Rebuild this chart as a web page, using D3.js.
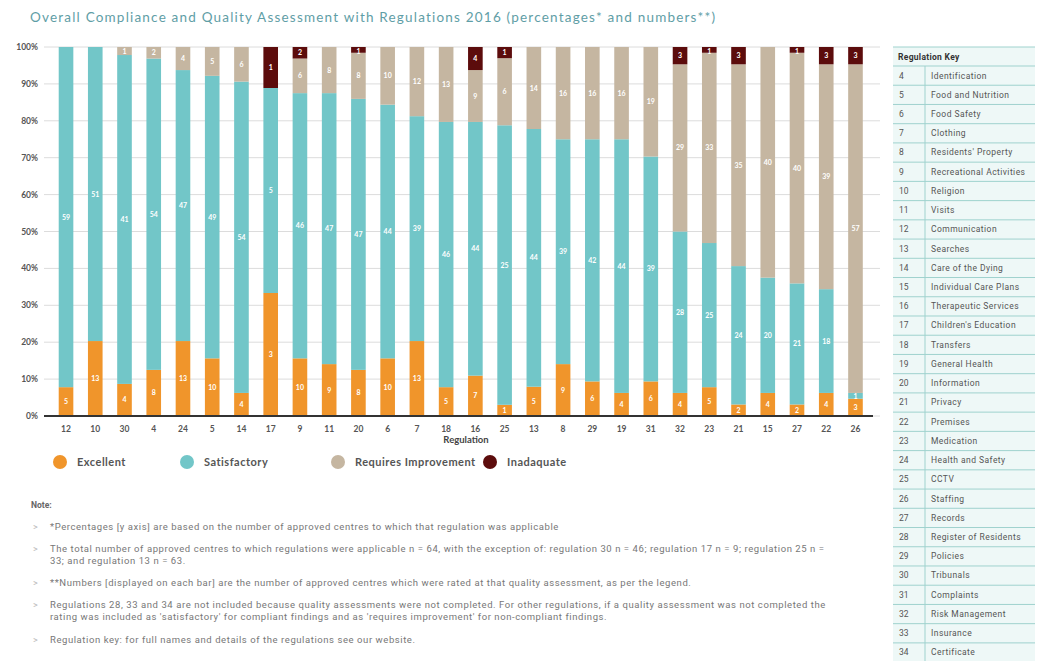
<!DOCTYPE html>
<html>
<head>
<meta charset="utf-8">
<script src="https://cdn.jsdelivr.net/npm/d3@7.9.0/dist/d3.min.js"></script>
<style>
  body { margin: 0; background: #fff; }
  svg { display: block; }
</style>
</head>
<body>
<svg id="chart" width="1041" height="661"></svg>
<script>
// Regulation order along the x axis
const regulations = [12, 10, 30, 4, 24, 5, 14, 17, 9, 11, 20, 6, 7, 18, 16, 25, 13, 8, 29, 19, 31, 32, 23, 21, 15, 27, 22, 26];

// Number of approved centres per rating
const excellent =           [5, 13, 4, 8, 13, 10, 4, 3, 10, 9, 8, 10, 13, 5, 7, 1, 5, 9, 6, 4, 6, 4, 5, 2, 4, 2, 4, 3];
const satisfactory =        [59, 51, 41, 54, 47, 49, 54, 5, 46, 47, 47, 44, 39, 46, 44, 25, 44, 39, 42, 44, 39, 28, 25, 24, 20, 21, 18, 1];
const requiresImprovement = [0, 0, 1, 2, 4, 5, 6, 0, 6, 8, 8, 10, 12, 13, 9, 6, 14, 16, 16, 16, 19, 29, 33, 35, 40, 40, 39, 57];
const inadequate =          [0, 0, 0, 0, 0, 0, 0, 1, 2, 0, 1, 0, 0, 0, 4, 1, 0, 0, 0, 0, 0, 3, 1, 3, 0, 1, 3, 3];

const ratingNames = ["Excellent", "Satisfactory", "Requires Improvement", "Inadaquate"];
const ratingColors = ["#f0952b", "#72c6c8", "#c5b6a1", "#5c0c0c"];
const yTicks = [0, 0.1, 0.2, 0.3, 0.4, 0.5, 0.6, 0.7, 0.8, 0.9, 1];

const keyNumbers = [4, 5, 6, 7, 8, 9, 10, 11, 12, 13, 14, 15, 16, 17, 18, 19, 20, 21, 22, 23, 24, 25, 26, 27, 28, 29, 30, 31, 32, 33, 34];
const keyNames = ["Identification", "Food and Nutrition", "Food Safety", "Clothing", "Residents' Property",
  "Recreational Activities", "Religion", "Visits", "Communication", "Searches", "Care of the Dying",
  "Individual Care Plans", "Therapeutic Services", "Children's Education", "Transfers", "General Health",
  "Information", "Privacy", "Premises", "Medication", "Health and Safety", "CCTV", "Staffing", "Records",
  "Register of Residents", "Policies", "Tribunals", "Complaints", "Risk Management", "Insurance", "Certificate"];

const notes = [
  ["*Percentages [y axis] are based on the number of approved centres to which that regulation was applicable"],
  ["The total number of approved centres to which regulations were applicable n = 64, with the exception of: regulation 30 n = 46; regulation 17 n = 9; regulation 25 n =",
   "33; and regulation 13 n = 63."],
  ["**Numbers [displayed on each bar] are the number of approved centres which were rated at that quality assessment, as per the legend."],
  ["Regulations 28, 33 and 34 are not included because quality assessments were not completed. For other regulations, if a quality assessment was not completed the",
   "rating was included as 'satisfactory' for compliant findings and as 'requires improvement' for non-compliant findings."],
  ["Regulation key: for full names and details of the regulations see our website."]
];

const svg = d3.select("#chart");
const font = "Lato, 'Open Sans', sans-serif";

// Title
svg.append("text")
  .attr("x", 30).attr("y", 22)
  .attr("font-family", font).attr("font-size", 13.5)
  .attr("letter-spacing", 1.2)
  .attr("fill", "#5f9ea6")
  .text("Overall Compliance and Quality Assessment with Regulations 2016 (percentages* and numbers**)");

// Build rows for stacking
const keys = ["excellent", "satisfactory", "requiresImprovement", "inadequate"];
const rows = regulations.map((r, i) => {
  const total = excellent[i] + satisfactory[i] + requiresImprovement[i] + inadequate[i];
  return {
    reg: r, total,
    excellent: excellent[i], satisfactory: satisfactory[i],
    requiresImprovement: requiresImprovement[i], inadequate: inadequate[i]
  };
});

const x = d3.scaleBand().domain(regulations).range([51.4, 870.1]).paddingInner(0.5).paddingOuter(0.25);
const y = d3.scaleLinear().domain([0, 1]).range([416, 47]);

// Gridlines
svg.append("g").selectAll("line")
  .data(yTicks)
  .enter().append("line")
  .attr("x1", 44).attr("x2", 880)
  .attr("y1", d => y(d)).attr("y2", d => y(d))
  .attr("stroke", "#dcdcdc").attr("stroke-width", 1);

// Y axis labels
svg.append("g").selectAll("text")
  .data(yTicks)
  .enter().append("text")
  .attr("x", 38).attr("y", d => y(d) + 3)
  .attr("text-anchor", "end")
  .attr("font-family", font).attr("font-size", 8.5).attr("font-weight", "bold")
  .attr("fill", "#555")
  .text(d => d3.format(".0%")(d));

// Stacked bars (percent of total)
const stack = d3.stack().keys(keys).value((d, k) => d[k] / d.total);
const series = stack(rows);

const groups = svg.append("g").selectAll("g")
  .data(series)
  .enter().append("g")
  .attr("fill", (d, i) => ratingColors[i]);

groups.selectAll("rect")
  .data(d => d.map(s => ({ key: d.key, s })))
  .enter().append("rect")
  .attr("x", d => x(d.s.data.reg))
  .attr("y", d => y(d.s[1]))
  .attr("width", x.bandwidth())
  .attr("height", d => Math.max(0, y(d.s[0]) - y(d.s[1])));

// Segment numbers
groups.selectAll("text")
  .data(d => d.map(s => ({ key: d.key, s })).filter(e => e.s.data[e.key] > 0))
  .enter().append("text")
  .attr("x", d => x(d.s.data.reg) + x.bandwidth() / 2)
  .attr("y", d => {
    const h = y(d.s[0]) - y(d.s[1]);
    return h < 10 ? y(d.s[1]) + 6.5 : (y(d.s[0]) + y(d.s[1])) / 2 + 2.5;
  })
  .attr("text-anchor", "middle")
  .attr("font-family", font).attr("font-size", 7).attr("font-weight", "bold")
  .attr("fill", "#fff")
  .text(d => d.s.data[d.key]);

// X axis
const xAxis = svg.append("g")
  .attr("transform", "translate(0,416)")
  .call(d3.axisBottom(x).tickSize(0).tickPadding(10));
xAxis.select(".domain").attr("d", "M44,0H873").attr("stroke", "#333").attr("stroke-width", 2);
xAxis.selectAll("text")
  .attr("font-family", font).attr("font-size", 8.5).attr("font-weight", "bold")
  .attr("fill", "#555");

svg.append("text")
  .attr("x", 466).attr("y", 443)
  .attr("text-anchor", "middle")
  .attr("font-family", font).attr("font-size", 9.5).attr("font-weight", "bold")
  .attr("fill", "#444")
  .text("Regulation");

// Legend
const legendX = [60, 187, 338, 490];
const legend = svg.append("g").selectAll("g")
  .data(ratingNames)
  .enter().append("g")
  .attr("transform", (d, i) => `translate(${legendX[i]},462)`);
legend.append("circle").attr("r", 7).attr("fill", (d, i) => ratingColors[i]);
legend.append("text")
  .attr("x", 17).attr("y", 3.5)
  .attr("font-family", font).attr("font-size", 11).attr("font-weight", "bold")
  .attr("letter-spacing", 0.5)
  .attr("fill", "#555")
  .text(d => d);

// Notes
const noteFont = "Roboto, sans-serif";
svg.append("text")
  .attr("x", 31).attr("y", 508)
  .attr("font-family", noteFont).attr("font-size", 8.5).attr("font-weight", "bold")
  .attr("fill", "#666")
  .text("Note:");

const noteY = [527, 549, 583, 605, 640];
notes.forEach((lines, i) => {
  svg.append("text")
    .attr("x", 33).attr("y", noteY[i] + 3)
    .attr("font-family", noteFont).attr("font-size", 9)
    .attr("fill", "#bbb")
    .text(">");
  lines.forEach((line, j) => {
    svg.append("text")
      .attr("x", 50).attr("y", noteY[i] + 3 + j * 12)
      .attr("font-family", noteFont).attr("font-size", 9.5)
      .attr("letter-spacing", 0.57)
      .attr("fill", "#777")
      .text(line);
  });
});

// Regulation key table
const tableX = 893, tableW = 142, tableTop = 47, headerH = 19, rowH = 19.23;
const table = svg.append("g");
table.append("rect")
  .attr("x", tableX).attr("y", tableTop)
  .attr("width", tableW).attr("height", headerH + rowH * keyNumbers.length)
  .attr("fill", "#eef8f7");
table.append("line")
  .attr("x1", tableX).attr("x2", tableX + tableW)
  .attr("y1", tableTop).attr("y2", tableTop)
  .attr("stroke", "#9fd2ce");
table.append("text")
  .attr("x", tableX + 5).attr("y", tableTop + 13)
  .attr("font-family", noteFont).attr("font-size", 8.5).attr("font-weight", "bold")
  .attr("letter-spacing", 0.3)
  .attr("fill", "#333")
  .text("Regulation Key");
table.append("line")
  .attr("x1", 925).attr("x2", 925)
  .attr("y1", tableTop + headerH).attr("y2", tableTop + headerH + rowH * keyNumbers.length)
  .attr("stroke", "#9fd2ce");

const keyRows = table.selectAll("g.keyrow")
  .data(keyNumbers)
  .enter().append("g")
  .attr("class", "keyrow")
  .attr("transform", (d, i) => `translate(0,${tableTop + headerH + i * rowH})`);
keyRows.append("line")
  .attr("x1", tableX).attr("x2", tableX + tableW)
  .attr("y1", 0).attr("y2", 0)
  .attr("stroke", "#9fd2ce");
keyRows.append("text")
  .attr("x", tableX + 6).attr("y", 12.5)
  .attr("font-family", noteFont).attr("font-size", 8.5)
  .attr("fill", "#555")
  .text(d => d);
keyRows.append("text")
  .attr("x", 931).attr("y", 12.5)
  .attr("font-family", noteFont).attr("font-size", 8.5)
  .attr("letter-spacing", 0.45)
  .attr("fill", "#555")
  .text((d, i) => keyNames[i]);
</script>
</body>
</html>
